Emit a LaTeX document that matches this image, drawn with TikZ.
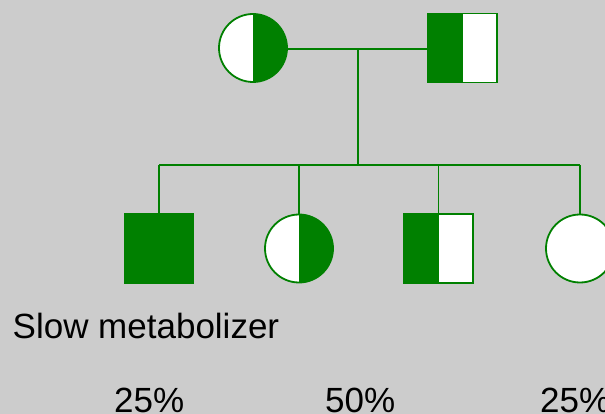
\documentclass[tikz,border=0pt]{standalone}
\usepackage{fontspec}
\setmainfont{Liberation Sans}
\usepackage{xcolor}
\usepackage{tikz}
\definecolor{pedgreen}{HTML}{008000}
\definecolor{pedgray}{HTML}{CCCCCC}
\tikzstyle{female} = [circle, minimum size=68pt, inner sep=0pt, draw=pedgreen, line width=1.8pt, fill=white]
\tikzstyle{male} = [rectangle, minimum size=69pt, inner sep=0pt, draw=pedgreen, line width=1.8pt, fill=white]
\tikzstyle{lefthalf} = [path picture={\fill[pedgreen] (path picture bounding box.south west) rectangle (path picture bounding box.north);}]
\tikzstyle{righthalf} = [path picture={\fill[pedgreen] (path picture bounding box.south) rectangle (path picture bounding box.north east);}]
\tikzstyle{line} = [draw=pedgreen, line width=1.8pt]
\tikzstyle{label} = [font=\fontsize{35}{42}\selectfont, inner sep=0pt]

\begin{document}
\begin{tikzpicture}[x=1pt, y=-1pt]
        \fill[pedgray] (0,0) rectangle (605,414);
        \useasboundingbox (0,0) rectangle (605,414);

        % Nodes
        \node (mother) [female, righthalf] at (253,48) {};
        \node (father) [male, lefthalf] at (462.5,48) {};
        \coordinate (mate) at (358,49);
        \coordinate (sib) at (358,165);
        \node (son1) [male, fill=pedgreen] at (159,248.5) {};
        \node (dau1) [female, righthalf] at (299,248.5) {};
        \node (son2) [male, lefthalf] at (438.5,248.5) {};
        \node (dau2) [female] at (580,248.5) {};

        % Lines
        \draw [line] (mother.east |- mate) -- (father.west |- mate);
        \draw [line] (mate) -- (sib);
        \draw [line] (son1.north |- sib) -- (dau2.north |- sib);
        \draw [line] (son1.north |- sib) -- (son1.north);
        \draw [line] (dau1.north |- sib) -- (dau1.north);
        \draw [line] (son2.north |- sib) -- (son2.north);
        \draw [line] (dau2.north |- sib) -- (dau2.north);

        % Labels
        \node (slow) [label, anchor=base west] at (12.5,338.5) {Slow metabolizer};
        \node (pct1) [label, anchor=base west] at (114,412) {25\%};
        \node (pct2) [label, anchor=base west] at (325,412) {50\%};
        \node (pct3) [label, anchor=base west] at (540,412) {25\%};
    \end{tikzpicture}
\end{document}
